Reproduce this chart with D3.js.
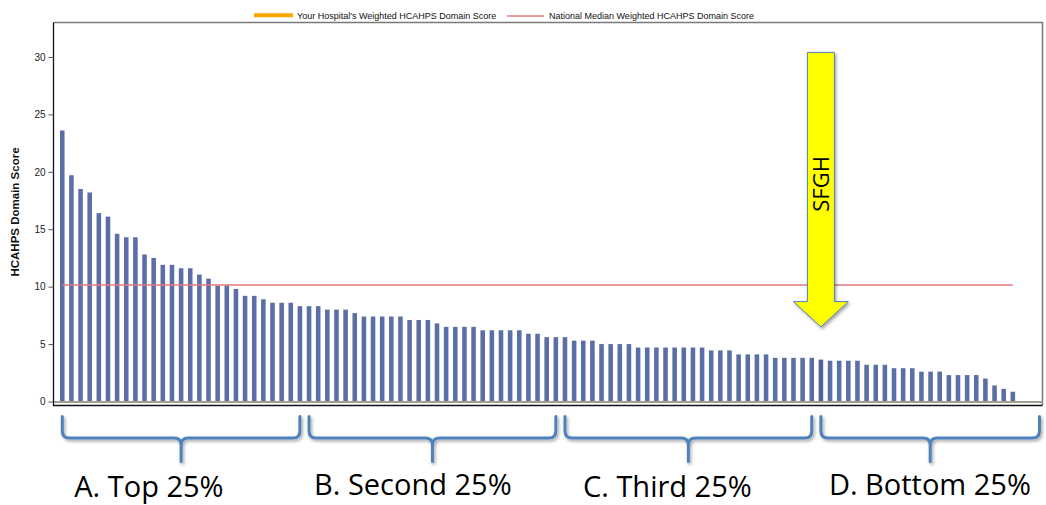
<!DOCTYPE html>
<html>
<head>
<meta charset="utf-8">
<script src="https://cdn.jsdelivr.net/npm/d3@7"></script>
<style>
  body { margin: 0; background: #fff; }
  svg { display: block; }
</style>
</head>
<body>
<svg id="chart" width="1046" height="505"></svg>
<script>
// Weighted HCAHPS domain score per hospital, ranked high to low
const domainScores = [
  23.6, 19.7, 18.5, 18.2, 16.4, 16.1, 14.6, 14.3, 14.3, 12.8,
  12.5, 11.9, 11.9, 11.6, 11.6, 11.05, 10.7, 10.1, 10.1, 9.8,
  9.2, 9.2, 8.9, 8.6, 8.6, 8.6, 8.3, 8.3, 8.3, 8.0,
  8.0, 8.0, 7.7, 7.4, 7.4, 7.4, 7.4, 7.4, 7.1, 7.1,
  7.1, 6.8, 6.5, 6.5, 6.5, 6.5, 6.2, 6.2, 6.2, 6.2,
  6.2, 5.9, 5.9, 5.6, 5.6, 5.6, 5.3, 5.3, 5.3, 5.0,
  5.0, 5.0, 5.0, 4.7, 4.7, 4.7, 4.7, 4.7, 4.7, 4.7,
  4.7, 4.45, 4.45, 4.45, 4.1, 4.1, 4.1, 4.1, 3.8, 3.8,
  3.8, 3.8, 3.8, 3.65, 3.55, 3.55, 3.55, 3.55, 3.2, 3.2,
  3.2, 2.9, 2.9, 2.9, 2.6, 2.6, 2.6, 2.3, 2.3, 2.3,
  2.3, 2.0, 1.4, 1.1, 0.85
];
const hospitalRanks = domainScores.map((_, i) => i + 1);
const nationalMedian = 10.15;
const yTicks = [0, 5, 10, 15, 20, 25, 30];
const yAxisTitle = "HCAHPS Domain Score";
const legendLabels = ["Your Hospital's Weighted HCAHPS Domain Score",
                      "National Median Weighted HCAHPS Domain Score"];
const ownHospitalRank = 84;
const ownHospitalName = "SFGH";
// arrow extent on the score scale: shaft top, head base, tip
const arrowScores = [30.4, 8.7, 6.5];
const quartileNames = ["A. Top 25%", "B. Second 25%", "C. Third 25%", "D. Bottom 25%"];
const quartileFirstRank = [1, 28, 56, 84];
const quartileLastRank = [27, 55, 83, 105];

// ---- layout ----
const frame = { left: 53.5, right: 1042.5, top: 22.5, bottom: 405.5 };
const zeroY = 401.5;
const labelShift = [12, 5, 18, 8];
const labelBaseline = [497, 495, 497, 495];

const svg = d3.select("#chart");

const x = d3.scaleBand()
  .domain(hospitalRanks)
  .range([57.7, 1017.4])
  .paddingInner(0.5)
  .paddingOuter(0.25);

const y = d3.scaleLinear().domain([0, 33]).range([zeroY, frame.top]);

const cx = r => x(r) + x.bandwidth() / 2;

const defs = svg.append("defs");
const shadow = defs.append("filter").attr("id", "shadow")
  .attr("x", "-20%").attr("y", "-20%").attr("width", "140%").attr("height", "140%");
shadow.append("feDropShadow").attr("dx", 1.5).attr("dy", 2).attr("stdDeviation", 1.6)
  .attr("flood-color", "#000").attr("flood-opacity", 0.35);

// frame
svg.append("path")
  .attr("d", `M${frame.left},${frame.top}H${frame.right}V${frame.bottom}`)
  .attr("fill", "none").attr("stroke", "#7a7a7a").attr("stroke-width", 1.5);

// bars
svg.append("g").selectAll("rect")
  .data(domainScores)
  .join("rect")
  .attr("x", (d, i) => x(hospitalRanks[i]))
  .attr("y", d => y(d))
  .attr("width", x.bandwidth())
  .attr("height", d => y(0) - y(d))
  .attr("fill", (d, i) => hospitalRanks[i] === ownHospitalRank ? "#52649c" : "#5b6ea6");

// zero baseline
svg.append("line")
  .attr("x1", frame.left).attr("x2", frame.right)
  .attr("y1", y(0) + 0.5).attr("y2", y(0) + 0.5)
  .attr("stroke", "#a49e8c").attr("stroke-width", 2);

// bottom and left frame edges
svg.append("path")
  .attr("d", `M${frame.left},${frame.top}V${frame.bottom}H${frame.right}`)
  .attr("fill", "none").attr("stroke", "#111").attr("stroke-width", 1.3);

// y axis ticks and labels
const yAxis = svg.append("g").attr("transform", `translate(${frame.left},0)`)
  .call(d3.axisLeft(y).tickValues(yTicks).tickSize(5).tickPadding(3));
yAxis.select(".domain").remove();
yAxis.selectAll(".tick line").attr("stroke", "#555");
yAxis.selectAll(".tick text")
  .attr("font-family", "Liberation Sans, Arial, sans-serif")
  .attr("font-size", 10).attr("fill", "#222");

svg.append("text")
  .attr("transform", `translate(19,212) rotate(-90)`)
  .attr("text-anchor", "middle")
  .attr("font-family", "Liberation Sans, Arial, sans-serif")
  .attr("font-weight", "bold").attr("font-size", 11.5).attr("fill", "#111")
  .text(yAxisTitle);

// national median line
svg.append("line")
  .attr("x1", cx(hospitalRanks[0])).attr("x2", cx(hospitalRanks[hospitalRanks.length - 1]))
  .attr("y1", y(nationalMedian)).attr("y2", y(nationalMedian))
  .attr("stroke", "#e47a7e").attr("stroke-width", 1.4);

// legend
const legend = svg.append("g")
  .attr("font-family", "Liberation Sans, Arial, sans-serif")
  .attr("font-size", 9).attr("fill", "#111");
legend.append("line").attr("x1", 254).attr("x2", 293).attr("y1", 15.3).attr("y2", 15.3)
  .attr("stroke", "#ffa500").attr("stroke-width", 4);
legend.append("text").attr("x", 297).attr("y", 18.5).text(legendLabels[0]);
legend.append("line").attr("x1", 507).attr("x2", 544).attr("y1", 16).attr("y2", 16)
  .attr("stroke", "#e8787c").attr("stroke-width", 1.5);
legend.append("text").attr("x", 549).attr("y", 18.5).text(legendLabels[1]);

// arrow pointing at the own hospital's bar
const ax = cx(ownHospitalRank);
const shaftHalf = 13.5, headHalf = 27.5;
const [aTop, aBase, aTip] = arrowScores.map(v => y(v));
svg.append("path")
  .attr("d", `M${ax - shaftHalf},${aTop}H${ax + shaftHalf}V${aBase}H${ax + headHalf}` +
             `L${ax},${aTip}L${ax - headHalf},${aBase}H${ax - shaftHalf}Z`)
  .attr("fill", "#ffff00").attr("stroke", "#4f81bd").attr("stroke-width", 1)
  .attr("filter", "url(#shadow)");
svg.append("text")
  .attr("transform", `translate(${ax + 8},${(aTop + aBase) / 2 + 7}) rotate(-90)`)
  .attr("text-anchor", "middle")
  .attr("font-family", "Open Sans, sans-serif").attr("font-size", 22).attr("fill", "#000")
  .text(ownHospitalName);

// quartile braces
const braceTop = 416.5, braceMid = 438, braceTip = 461.5, r = 7;
const braces = svg.append("g");
quartileNames.forEach((name, i) => {
  const x0 = cx(quartileFirstRank[i]);
  const x1 = i === quartileNames.length - 1 ? frame.right - 3 : cx(quartileLastRank[i]);
  const m = (x0 + x1) / 2;
  const d = `M${x0},${braceTop}V${braceMid - r}Q${x0},${braceMid} ${x0 + r},${braceMid}` +
            `H${m - r}Q${m},${braceMid} ${m},${braceMid + r}V${braceTip}` +
            `M${m},${braceMid + r}Q${m},${braceMid} ${m + r},${braceMid}` +
            `H${x1 - r}Q${x1},${braceMid} ${x1},${braceMid - r}V${braceTop}`;
  braces.append("path").attr("d", d)
    .attr("fill", "none").attr("stroke", "#4f81bd").attr("stroke-width", 3)
    .attr("stroke-linecap", "round").attr("stroke-linejoin", "round")
    .attr("filter", "url(#shadow)");
  svg.append("text")
    .attr("x", x0 + labelShift[i]).attr("y", labelBaseline[i])
    .attr("font-family", "Open Sans, sans-serif").attr("font-size", 29).attr("fill", "#000")
    .text(name);
});
</script>
</body>
</html>
